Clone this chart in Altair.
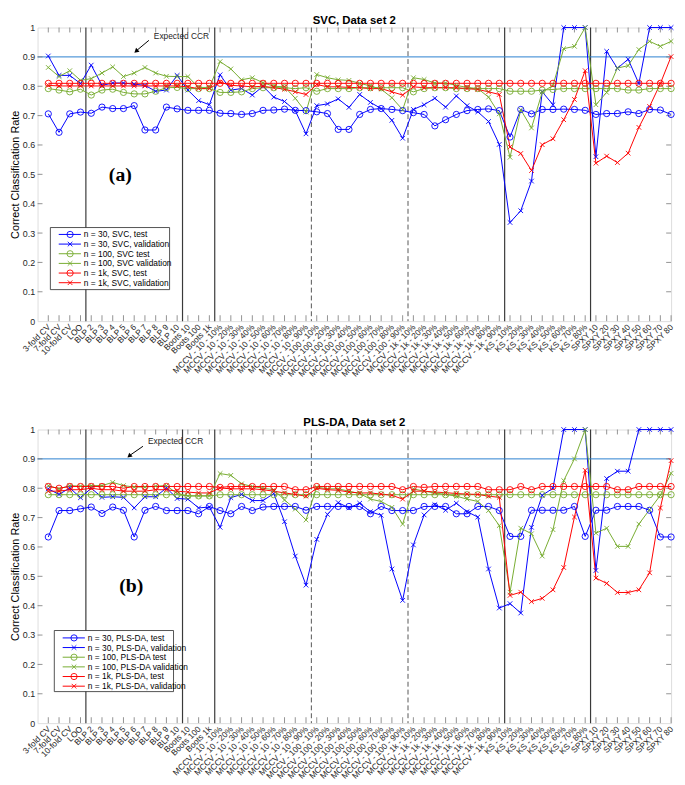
import json
import altair as alt
import pandas as pd

# ---------------- categories (x tick labels) ----------------
categories = (
    ["3-fold CV", "7-fold CV", "10-fold CV", "LOO"]
    + ["BLP 2", "BLP 3", "BLP 4", "BLP 5", "BLP 6", "BLP 7", "BLP 8", "BLP 9", "BLP 10"]
    + ["Boots 10", "Boots 100", "Boots 1k"]
    + ["MCCV - 10 - %d%%" % p for p in range(10, 100, 10)]
    + ["MCCV - 100 - %d%%" % p for p in range(10, 100, 10)]
    + ["MCCV - 1k - %d%%" % p for p in range(10, 100, 10)]
    + ["KS - %d%%" % p for p in range(10, 90, 10)]
    + ["SPXY %d" % p for p in range(10, 90, 10)]
)
solid_sep = [4.5, 13.5, 16.5, 43.5, 51.5]
dashed_sep = [25.5, 34.5]
y_ticks = [0, 0.1, 0.2, 0.3, 0.4, 0.5, 0.6, 0.7, 0.8, 0.9, 1.0]
expected_ccr = [0.9]

# ---------------- SVC, data set 2 ----------------
svc_n30_test = [0.706, 0.643, 0.706, 0.712, 0.708, 0.729, 0.724, 0.724, 0.734, 0.651,
                0.651, 0.729, 0.723, 0.718, 0.718, 0.718, 0.708, 0.707, 0.704, 0.707,
                0.718, 0.719, 0.722, 0.718, 0.717, 0.713, 0.707, 0.653, 0.653, 0.704,
                0.721, 0.724, 0.721, 0.717, 0.710, 0.704, 0.665, 0.686, 0.704, 0.717,
                0.721, 0.723, 0.717, 0.627, 0.721, 0.706, 0.721, 0.721, 0.722, 0.721,
                0.718, 0.704, 0.707, 0.707, 0.713, 0.707, 0.721, 0.719, 0.704]
svc_n30_val = [0.903, 0.837, 0.837, 0.809, 0.872, 0.803, 0.811, 0.811, 0.807, 0.803,
               0.783, 0.787, 0.837, 0.787, 0.751, 0.737, 0.839, 0.787, 0.792, 0.770,
               0.800, 0.763, 0.748, 0.717, 0.638, 0.734, 0.740, 0.757, 0.728, 0.772,
               0.745, 0.724, 0.684, 0.623, 0.721, 0.737, 0.759, 0.729, 0.767, 0.734,
               0.713, 0.680, 0.602, 0.336, 0.376, 0.477, 0.781, 0.737, 1.0, 1.0,
               1.0, 0.560, 0.919, 0.861, 0.892, 0.809, 1.0, 1.0, 1.0]
svc_n100_test = [0.792, 0.787, 0.781, 0.790, 0.770, 0.787, 0.790, 0.779, 0.774, 0.774,
                 0.783, 0.795, 0.796, 0.792, 0.792, 0.792, 0.779, 0.779, 0.781, 0.792,
                 0.795, 0.795, 0.795, 0.792, 0.795, 0.783, 0.792, 0.792, 0.792, 0.795,
                 0.795, 0.795, 0.795, 0.795, 0.781, 0.792, 0.795, 0.795, 0.792, 0.792,
                 0.792, 0.792, 0.792, 0.783, 0.783, 0.783, 0.787, 0.789, 0.792, 0.792,
                 0.792, 0.792, 0.792, 0.792, 0.787, 0.787, 0.792, 0.792, 0.792]
svc_n100_val = [0.864, 0.833, 0.853, 0.820, 0.826, 0.845, 0.866, 0.833, 0.845, 0.864,
                0.845, 0.834, 0.833, 0.833, 0.796, 0.796, 0.884, 0.859, 0.822, 0.829,
                0.812, 0.800, 0.798, 0.759, 0.712, 0.840, 0.829, 0.822, 0.820, 0.810,
                0.801, 0.790, 0.761, 0.720, 0.829, 0.823, 0.811, 0.811, 0.803, 0.796,
                0.792, 0.763, 0.706, 0.558, 0.720, 0.658, 0.780, 0.803, 0.928, 0.936,
                1.0, 0.737, 0.779, 0.862, 0.870, 0.925, 0.953, 0.936, 0.953]
svc_n1k_test = [0.810, 0.810, 0.810, 0.810, 0.810, 0.810, 0.810, 0.810, 0.810, 0.810,
                0.810, 0.810, 0.810, 0.810, 0.810, 0.810, 0.810, 0.810, 0.810, 0.810,
                0.810, 0.810, 0.810, 0.810, 0.810, 0.810, 0.810, 0.810, 0.810, 0.810,
                0.810, 0.810, 0.810, 0.810, 0.810, 0.810, 0.810, 0.810, 0.810, 0.810,
                0.810, 0.810, 0.810, 0.810, 0.810, 0.810, 0.810, 0.810, 0.810, 0.810,
                0.810, 0.810, 0.810, 0.810, 0.810, 0.810, 0.810, 0.810, 0.810]
svc_n1k_val = [0.803, 0.801, 0.801, 0.801, 0.801, 0.801, 0.801, 0.801, 0.801, 0.801,
               0.801, 0.801, 0.801, 0.798, 0.792, 0.792, 0.814, 0.803, 0.801, 0.798,
               0.800, 0.795, 0.790, 0.781, 0.772, 0.806, 0.798, 0.798, 0.796, 0.795,
               0.792, 0.792, 0.781, 0.770, 0.798, 0.795, 0.795, 0.795, 0.795, 0.792,
               0.789, 0.781, 0.772, 0.593, 0.571, 0.513, 0.601, 0.621, 0.686, 0.755,
               0.853, 0.538, 0.562, 0.540, 0.572, 0.660, 0.731, 0.809, 0.901]

# ---------------- PLS-DA, data set 2 ----------------
pls_n30_test = [0.634, 0.724, 0.724, 0.730, 0.736, 0.714, 0.736, 0.725, 0.634, 0.725,
                0.738, 0.724, 0.724, 0.724, 0.713, 0.738, 0.724, 0.713, 0.738, 0.724,
                0.736, 0.738, 0.738, 0.738, 0.725, 0.738, 0.738, 0.738, 0.738, 0.738,
                0.713, 0.738, 0.724, 0.724, 0.724, 0.738, 0.738, 0.738, 0.713, 0.713,
                0.738, 0.738, 0.724, 0.636, 0.636, 0.725, 0.725, 0.725, 0.725, 0.738,
                0.636, 0.725, 0.725, 0.738, 0.738, 0.738, 0.725, 0.634, 0.634]
pls_n30_val = [0.798, 0.779, 0.801, 0.768, 0.800, 0.769, 0.771, 0.769, 0.733, 0.771,
               0.771, 0.801, 0.765, 0.763, 0.733, 0.736, 0.667, 0.768, 0.779, 0.758,
               0.758, 0.782, 0.686, 0.569, 0.470, 0.626, 0.711, 0.751, 0.733, 0.749,
               0.720, 0.708, 0.525, 0.418, 0.607, 0.709, 0.744, 0.725, 0.749, 0.720,
               0.702, 0.525, 0.392, 0.407, 0.375, 0.667, 0.776, 0.800, 1.0, 1.0,
               1.0, 0.520, 0.833, 0.858, 0.858, 1.0, 1.0, 1.0, 1.0]
pls_n100_test = [0.778, 0.778, 0.778, 0.778, 0.778, 0.778, 0.778, 0.778, 0.778, 0.778,
                 0.778, 0.778, 0.778, 0.774, 0.774, 0.774, 0.778, 0.778, 0.778, 0.778,
                 0.778, 0.778, 0.778, 0.778, 0.778, 0.778, 0.778, 0.778, 0.778, 0.778,
                 0.778, 0.778, 0.778, 0.778, 0.778, 0.778, 0.778, 0.778, 0.778, 0.778,
                 0.778, 0.778, 0.778, 0.778, 0.778, 0.778, 0.778, 0.778, 0.778, 0.778,
                 0.778, 0.778, 0.778, 0.778, 0.778, 0.778, 0.778, 0.778, 0.778]
pls_n100_val = [0.809, 0.798, 0.809, 0.807, 0.809, 0.809, 0.820, 0.809, 0.804, 0.804,
                0.807, 0.809, 0.782, 0.774, 0.774, 0.774, 0.850, 0.844, 0.815, 0.806,
                0.800, 0.795, 0.760, 0.729, 0.692, 0.804, 0.798, 0.798, 0.790, 0.782,
                0.763, 0.755, 0.735, 0.678, 0.798, 0.790, 0.784, 0.779, 0.773, 0.763,
                0.755, 0.724, 0.673, 0.446, 0.664, 0.645, 0.569, 0.659, 0.826, 0.900,
                1.0, 0.647, 0.664, 0.602, 0.602, 0.678, 0.727, 0.776, 0.851]
pls_n1k_test = [0.806, 0.800, 0.806, 0.806, 0.806, 0.806, 0.806, 0.800, 0.806, 0.806,
                0.806, 0.806, 0.806, 0.806, 0.806, 0.806, 0.803, 0.806, 0.806, 0.806,
                0.806, 0.806, 0.806, 0.795, 0.795, 0.806, 0.806, 0.806, 0.806, 0.806,
                0.806, 0.806, 0.806, 0.795, 0.806, 0.803, 0.806, 0.806, 0.806, 0.806,
                0.806, 0.795, 0.795, 0.795, 0.806, 0.795, 0.806, 0.806, 0.806, 0.806,
                0.806, 0.806, 0.806, 0.795, 0.795, 0.806, 0.806, 0.806, 0.806]
pls_n1k_val = [0.790, 0.790, 0.795, 0.795, 0.800, 0.795, 0.795, 0.790, 0.790, 0.790,
               0.795, 0.795, 0.790, 0.787, 0.784, 0.784, 0.801, 0.798, 0.798, 0.798,
               0.795, 0.790, 0.784, 0.779, 0.773, 0.800, 0.795, 0.793, 0.787, 0.784,
               0.784, 0.780, 0.776, 0.763, 0.790, 0.790, 0.787, 0.785, 0.782, 0.780,
               0.779, 0.773, 0.769, 0.435, 0.446, 0.414, 0.425, 0.454, 0.530, 0.702,
               0.861, 0.494, 0.476, 0.445, 0.445, 0.454, 0.512, 0.733, 0.894]

series_keys = [("n30", "test"), ("n30", "validation"), ("n100", "test"),
               ("n100", "validation"), ("n1k", "test"), ("n1k", "validation")]

svc_labels = ["n = 30, SVC, test", "n = 30, SVC, validation", "n = 100, SVC test",
              "n = 100, SVC validation", "n = 1k, SVC, test", "n = 1k, SVC, validation"]
pls_labels = ["n = 30, PLS-DA, test", "n = 30, PLS-DA, validation", "n = 100, PLS-DA test",
              "n = 100, PLS-DA validation", "n = 1k, PLS-DA, test", "n = 1k, PLS-DA, validation"]

W, H = 643, 298
FONT = "Liberation Sans"

color_scale = alt.Scale(domain=["n30", "n100", "n1k"], range=["#0000ff", "#77ac30", "#ff0000"])
shape_scale = alt.Scale(domain=["test", "validation"],
                        range=["circle", "M-1,-1L1,1M-1,1L1,-1"])
size_scale = alt.Scale(domain=["test", "validation"], range=[40, 22])

x_scale = alt.Scale(domain=[0, 59], nice=False, zero=False)
y_scale = alt.Scale(domain=[0, 1], nice=False, zero=False)

label_expr = json.dumps(categories) + "[datum.value - 1]"
x_axis = alt.Axis(values=list(range(1, 60)), labelExpr=label_expr, labelAngle=-45,
                  labelAlign="right", labelBaseline="middle",
                  ticks=False, domain=False, grid=False, title=None,
                  labelFontSize=8.5, labelPadding=4, labelOverlap=False,
                  labelBound=False, labelFlush=False, labelFont=FONT,
                  labelColor="#262626")
y_axis = alt.Axis(values=y_ticks, format=".1~f", ticks=False, domain=False, grid=False,
                  title="Correct Classification Rate", titleFontSize=11,
                  titleFontWeight="normal", titlePadding=2, titleFont=FONT,
                  titleColor="#000000", labelFontSize=9, labelPadding=3,
                  labelFont=FONT, labelColor="#262626")


def xq(field):
    return alt.X(field, type="quantitative", scale=x_scale, axis=x_axis)


def yq(field):
    return alt.Y(field, type="quantitative", scale=y_scale, axis=y_axis)


def make_panel(title, values, labels, box, entry_top, ann, tag, tag_xy):
    rows = []
    for (grp, kind), vals in zip(series_keys, values):
        for i, v in enumerate(vals):
            rows.append({"idx": i + 1, "value": v, "grp": grp, "kind": kind})
    df = pd.DataFrame(rows)

    sep_solid = alt.Chart(pd.DataFrame({"b": solid_sep})).mark_rule(
        color="#3a3a3a", strokeWidth=1.2).encode(x=xq("b"))
    sep_dash = alt.Chart(pd.DataFrame({"b": dashed_sep})).mark_rule(
        color="#555555", strokeWidth=1, strokeDash=[5, 3]).encode(x=xq("b"))
    exp_line = alt.Chart(pd.DataFrame({"e": expected_ccr})).mark_rule(
        color="#2a7fcf", strokeWidth=1).encode(y=yq("e"))

    lines = alt.Chart(df).mark_line(strokeWidth=1).encode(
        x=xq("idx"), y=yq("value"),
        color=alt.Color("grp:N", scale=color_scale, legend=None),
        detail="kind:N")
    pts = alt.Chart(df).mark_point(filled=False, strokeWidth=0.9, opacity=1).encode(
        x=xq("idx"), y=yq("value"),
        color=alt.Color("grp:N", scale=color_scale, legend=None),
        shape=alt.Shape("kind:N", scale=shape_scale, legend=None),
        size=alt.Size("kind:N", scale=size_scale, legend=None))

    tick_x = pd.DataFrame({"t": list(range(1, 60))})
    tick_y = pd.DataFrame({"v": y_ticks[1:-1]})
    tcol = "#777777"
    ticks_top = alt.Chart(tick_x).mark_rule(color=tcol, strokeWidth=0.8).encode(
        x=xq("t"), y=alt.value(0), y2=alt.value(5))
    ticks_bot = alt.Chart(tick_x).mark_rule(color=tcol, strokeWidth=0.8).encode(
        x=xq("t"), y=alt.value(H - 6), y2=alt.value(H))
    ticks_l = alt.Chart(tick_y).mark_rule(color=tcol, strokeWidth=0.8).encode(
        y=yq("v"), x=alt.value(0), x2=alt.value(5))
    ticks_r = alt.Chart(tick_y).mark_rule(color=tcol, strokeWidth=0.8).encode(
        y=yq("v"), x=alt.value(W - 5), x2=alt.value(W))

    one = pd.DataFrame({"k": [0]})
    bx0, bx1, by0, by1 = box
    leg_box = alt.Chart(one).mark_rect(fill="white", stroke="#262626", strokeWidth=0.8).encode(
        x=alt.value(bx0), x2=alt.value(bx1), y=alt.value(by0), y2=alt.value(by1))
    leg_df = pd.DataFrame({
        "rank": list(range(6)),
        "label": labels,
        "grp": [k[0] for k in series_keys],
        "kind": [k[1] for k in series_keys],
    })
    leg_base = alt.Chart(leg_df).transform_calculate(py="%f + datum.rank * 9.8" % entry_top)
    py = alt.Y("py:Q", scale=None, axis=None)
    leg_rules = leg_base.mark_rule(strokeWidth=1).encode(
        x=alt.value(bx0 + 8.5), x2=alt.value(bx0 + 31), y=py,
        color=alt.Color("grp:N", scale=color_scale, legend=None))
    leg_pts = leg_base.mark_point(filled=False, strokeWidth=0.9, opacity=1).encode(
        x=alt.value(bx0 + 20), y=py,
        color=alt.Color("grp:N", scale=color_scale, legend=None),
        shape=alt.Shape("kind:N", scale=shape_scale, legend=None),
        size=alt.Size("kind:N", scale=size_scale, legend=None))
    leg_text = leg_base.mark_text(align="left", baseline="middle", fontSize=8.5,
                                  font=FONT, color="#000000").encode(
        x=alt.value(bx0 + 34), y=py, text="label:N")

    tx, ty, ax0, ay0, ax1, ay1 = ann
    ann_text = alt.Chart(one).mark_text(text="Expected CCR", align="left", baseline="middle",
                                        fontSize=8.5, font=FONT, color="#262626").encode(
        x=alt.value(tx), y=alt.value(ty))
    arrow = alt.Chart(one).mark_rule(color="#000000", strokeWidth=1).encode(
        x=alt.value(ax0), y=alt.value(ay0), x2=alt.value(ax1 + 2), y2=alt.value(ay1 - 2))
    head = alt.Chart(one).mark_point(shape="triangle-up", filled=True, size=28,
                                     angle=229, color="#000000", opacity=1).encode(
        x=alt.value(ax1 + 1), y=alt.value(ay1 - 1))
    tag_text = alt.Chart(one).mark_text(text=tag, align="center", baseline="middle",
                                        fontSize=20, fontWeight="bold",
                                        font="Liberation Serif", color="#000000").encode(
        x=alt.value(tag_xy[0]), y=alt.value(tag_xy[1]))

    return alt.layer(
        sep_solid, sep_dash, exp_line, ticks_top, ticks_bot, ticks_l, ticks_r,
        lines, pts, leg_box, leg_rules, leg_pts, leg_text,
        ann_text, arrow, head, tag_text,
    ).properties(
        width=W, height=H,
        title=alt.TitleParams(title, fontSize=11.5, fontWeight="bold", font=FONT,
                              anchor="middle", offset=-3, color="#000000"),
    )


svc_vals = [svc_n30_test, svc_n30_val, svc_n100_test, svc_n100_val, svc_n1k_test, svc_n1k_val]
pls_vals = [pls_n30_test, pls_n30_val, pls_n100_test, pls_n100_val, pls_n1k_test, pls_n1k_val]

top = make_panel("SVC, Data set 2", svc_vals, svc_labels,
                 box=(13, 134, 203, 266), entry_top=210,
                 ann=(118, 9, 113, 13, 99, 25), tag="(a)", tag_xy=(84, 150))
bottom = make_panel("PLS-DA, Data set 2", pls_vals, pls_labels,
                    box=(17, 138, 204, 266), entry_top=211.5,
                    ann=(112, 12, 107, 17, 92, 28), tag="(b)", tag_xy=(95, 159))

chart = alt.vconcat(top, bottom, spacing=37).properties(padding=0).configure_view(
    stroke="#666666", strokeWidth=1
).configure(background="white")

chart.save("out.html", embed_options={"renderer": "svg", "actions": False})
